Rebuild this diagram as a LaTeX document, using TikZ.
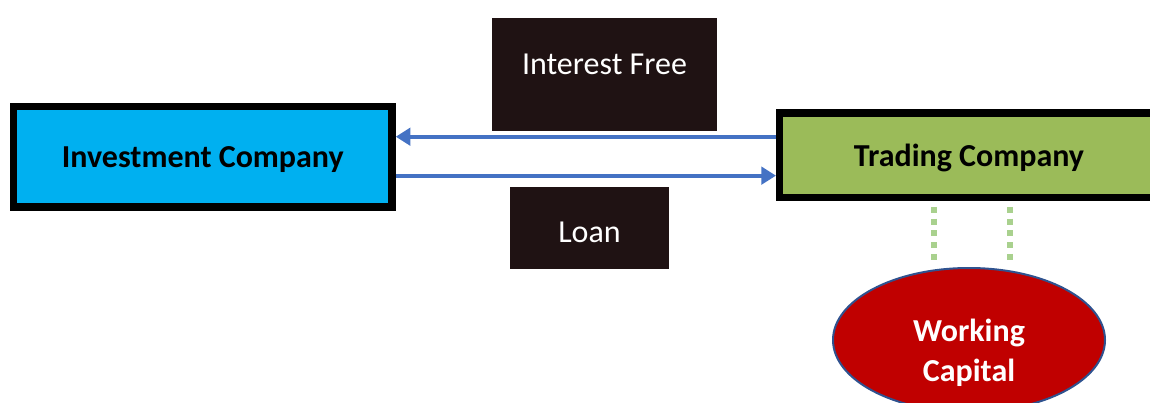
\documentclass[tikz,border=0pt]{standalone}
\usepackage{fontspec}
\setmainfont{Carlito}
\usetikzlibrary{arrows.meta}
\usetikzlibrary{shapes.geometric}

\definecolor{icblue}{HTML}{00B0F0}
\definecolor{tcgreen}{HTML}{9BBB59}
\definecolor{flowblue}{HTML}{4472C4}
\definecolor{tagdark}{HTML}{1F1213}
\definecolor{wcred}{HTML}{C00000}
\definecolor{wcline}{HTML}{2F528F}
\definecolor{dotgreen}{HTML}{A9D18E}

\tikzset{
  cbox/.style={draw=black,line width=5.6pt,rectangle,minimum width=283.9pt,
    text depth=0pt,font=\fontsize{24}{29}\selectfont\bfseries},
  tag/.style={fill=tagdark,rectangle,inner sep=0pt},
  tagtxt/.style={text=white,font=\fontsize{24}{29}\selectfont},
  flow/.style={draw=flowblue,line width=3pt,-{Triangle[length=11pt,width=13pt]}},
  dots/.style={draw=dotgreen,line width=4.5pt,dash pattern=on 4.5pt off 4.3pt,
    shorten <=4.3pt,shorten >=4.5pt}
}

\begin{document}
\begin{tikzpicture}[x=0.75pt,y=-0.75pt]
\useasboundingbox (0,0) rectangle (1150,403);
\draw
(202.75,156.75) node[cbox,fill=icblue,minimum height=75.4pt](ic){Investment Company}
(969,155.25) node[cbox,fill=tcgreen,minimum height=63.4pt](tc){Trading Company}
(604.5,74.5) node[tag,minimum width=168.75pt,minimum height=84.75pt](ifb){}
(589.5,228) node[tag,minimum width=119.25pt,minimum height=61.5pt](lb){}
(969,340) node[ellipse,draw=wcline,line width=1.5pt,fill=wcred,
  minimum width=204pt,minimum height=108pt](wc){}
;
\node[tagtxt] (ift) at (604.5,64.5) {Interest Free};
\node[tagtxt] (lt) at (589.5,232.5) {Loan};
\node[text=white,align=center,font=\fontsize{24}{30}\selectfont\bfseries] (wct) at (969,353) {Working\\Capital};

\coordinate (u) at ([yshift=13.9pt]tc.west);
\coordinate (l) at ([yshift=-15.3pt]tc.west);
\draw[flow] (u) -- (u -| ic.east);
\draw[flow] (l -| ic.east) -- (l);

\foreach \s in {-26.25pt,30.75pt}{
\coordinate (d) at ([xshift=\s]tc.south);
\draw[dots] (d) -- (d |- wc.north);
}
\end{tikzpicture}
\end{document}
